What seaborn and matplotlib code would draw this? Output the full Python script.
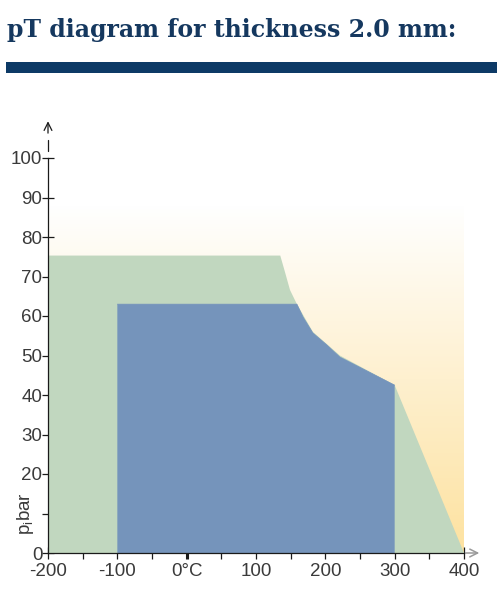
import numpy as np
import seaborn as sns
import matplotlib.pyplot as plt
from matplotlib.patches import Rectangle
from matplotlib.colors import LinearSegmentedColormap

# data
temp_green = [-200, -200, 135, 142, 149, 159, 182, 221, 300, 400]
p_green = [0, 75.3, 75.3, 71, 66.6, 63, 56, 50, 42.5, 0]
temp_blue = [-100, -100, 159, 168, 182, 202, 221, 300, 300]
p_blue = [0, 63, 63, 59.7, 55.7, 52.7, 49.6, 42.5, 0]
x_ticks = list(range(-200, 401, 50))
x_labels = ["-200", "", "-100", "", "0°C", "", "100", "", "200", "", "300", "", "400"]
y_ticks = list(range(0, 101, 10))
y_labels = ["0", "", "20", "30", "40", "50", "60", "70", "80", "90", "100"]

sns.set_theme(style="white")
plt.rcParams["font.family"] = ["Liberation Sans", "DejaVu Sans"]

W, H = 497, 593
fig = plt.figure(figsize=(W / 100, H / 100), dpi=100)

# axes placement (pixels): x -200 -> 48, 400 -> 464 ; y 0 -> 553, 100 -> 158
ppu_y = 3.95
ymax = 110
ax = fig.add_axes([48 / W, (H - 553) / H, 416 / W, ymax * ppu_y / H])
ax.set_xlim(-200, 400)
ax.set_ylim(0, ymax)
ax.patch.set_alpha(0)

# yellow gradient background
cmap = LinearSegmentedColormap.from_list("warm", ["#fde2a0", "#fef0cf", "#ffffff"])
grad = np.linspace(0, 1, 256).reshape(-1, 1)
ax.imshow(grad, extent=(-200, 400, 0, 88), origin="lower", aspect="auto",
          cmap=cmap, zorder=0)

ax.fill(temp_green, p_green, color="#c1d7bf", lw=0, zorder=1)
ax.fill(temp_blue, p_blue, color="#7594bb", lw=0, zorder=2)
sns.lineplot(x=temp_blue[1:-1], y=p_blue[1:-1], sort=False, color="#7594bb",
             lw=0.5, ax=ax, zorder=2)

# spines
for s in ["top", "right"]:
    ax.spines[s].set_visible(False)
ax.spines["left"].set_bounds(0, 100)
ax.spines["bottom"].set_bounds(-200, 400)
for s in ["left", "bottom"]:
    ax.spines[s].set_color("#1a1a1a")
    ax.spines[s].set_linewidth(0.9)
    ax.spines[s].set_zorder(5)

# ticks
ax.set_xticks(x_ticks)
ax.set_xticklabels(x_labels)
ax.set_yticks(y_ticks)
ax.set_yticklabels(y_labels)
ax.tick_params(axis="both", bottom=True, left=True, direction="inout",
               length=8, width=0.9, colors="#1a1a1a", labelcolor="#3a3a3a",
               labelsize=13.5)
ax.tick_params(axis="x", pad=3)
ax.tick_params(axis="y", pad=0)
ax.xaxis.get_major_ticks()[4].tick1line.set_markeredgewidth(2.2)
ax.yaxis.get_major_ticks()[0].tick1line.set_color("#888888")
for t in ax.get_xticklabels() + ax.get_yticklabels():
    t.set_zorder(6)

# axis arrows
ax.plot([-200, -200], [101.8, 104.6], color="#1a1a1a", lw=0.9, clip_on=False)
ax.annotate("", xy=(-200, 109.3), xytext=(-200, 106.3),
            arrowprops=dict(arrowstyle="->", lw=0.9, color="#1a1a1a",
                            shrinkA=0, shrinkB=0, mutation_scale=14),
            annotation_clip=False)
ax.annotate("", xy=(422, 0), xytext=(402, 0),
            arrowprops=dict(arrowstyle="->", lw=1.1, color="#999999",
                            shrinkA=0, shrinkB=0, mutation_scale=14),
            annotation_clip=False)

# y label
ax.text(-0.055, 10, "p$_\\mathregular{i}$bar", rotation=90, ha="center",
        va="center", fontsize=13.5, color="#3a3a3a",
        transform=ax.get_yaxis_transform())

# title and rule
fig.text(7 / W, 1 - 37 / H, "pT diagram for thickness 2.0 mm:",
         family=["DejaVu Serif", "Liberation Serif"], weight="bold",
         fontsize=17, color="#15385f", va="baseline", ha="left")
fig.patches.append(Rectangle((6 / W, 1 - 73 / H), 1 - 6 / W, 11 / H,
                             transform=fig.transFigure, color="#0d3a66",
                             lw=0))

fig.savefig("out.png", dpi=100)
